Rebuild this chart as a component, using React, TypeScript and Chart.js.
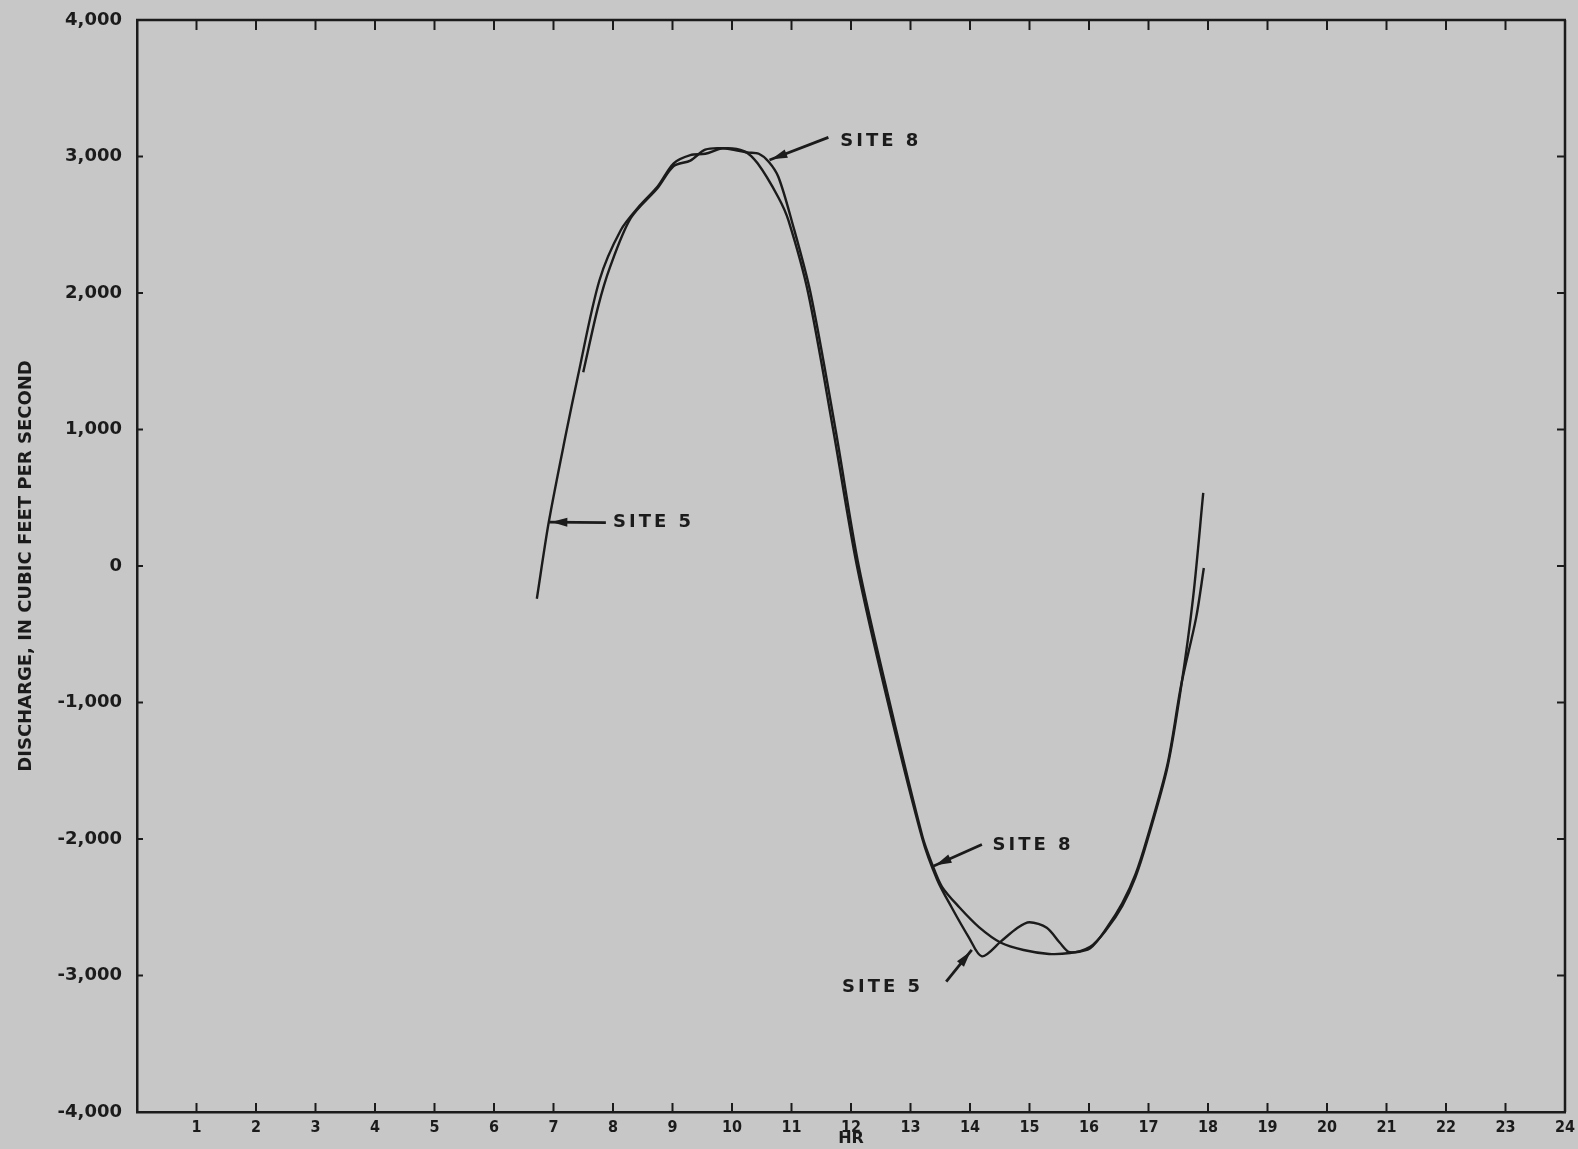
import React, { useEffect, useRef } from "react";
import { Chart, registerables } from "chart.js";

Chart.register(...registerables);

// ---- Data (hours, discharge in cubic feet per second) ----
const site5Hours = [
  6.72, 6.92, 7.21, 7.41, 7.77, 8.13, 8.45, 8.75, 9.02, 9.3, 9.55, 9.85, 10.2,
  10.43, 10.78, 10.95, 11.28, 11.7, 12.1, 12.62, 13.2, 13.45, 13.69, 13.98,
  14.2, 14.52, 14.8, 15.0, 15.29, 15.51, 15.68, 16.02, 16.3, 16.56, 16.78,
  16.98, 17.32, 17.55, 17.75, 17.92,
];
const site5Discharge = [
  -240, 320, 970, 1390, 2090, 2460, 2640, 2780, 2950, 3010, 3020, 3060, 3040,
  2950, 2700, 2530, 2000, 1000, 0, -1000, -2000, -2300, -2500, -2720, -2860,
  -2750, -2650, -2610, -2650, -2760, -2830, -2790, -2660, -2490, -2280, -2010,
  -1470, -880, -230, 535,
];
const site8Hours = [
  7.5, 7.75, 7.95, 8.3, 8.75, 9.02, 9.3, 9.55, 9.85, 10.26, 10.45, 10.62,
  10.78, 11.0, 11.32, 11.74, 12.13, 12.65, 13.2, 13.36, 13.53, 13.82, 14.15,
  14.52, 14.9, 15.33, 15.68, 16.02, 16.3, 16.56, 16.78, 16.98, 17.32, 17.55,
  17.8, 17.93,
];
const site8Discharge = [
  1420, 1900, 2190, 2550, 2770, 2930, 2970, 3050, 3060, 3030, 3020, 2960,
  2850, 2535, 2000, 1000, 0, -1000, -1980, -2180, -2350, -2500, -2645, -2760,
  -2813, -2842, -2835, -2800, -2650, -2470, -2260, -1990, -1450, -870, -380,
  -15,
];

const hourTicks = Array.from({ length: 25 }, (_, i) => i);
const dischargeTicks = [-4000, -3000, -2000, -1000, 0, 1000, 2000, 3000, 4000];

// Callout labels (in data coordinates)
const callouts = [
  { text: "SITE 8", at: [11.82, 3110], tail: [11.62, 3140], tip: [10.63, 2974] },
  { text: "SITE 5", at: [8.0, 318], tail: [7.88, 318], tip: [6.93, 322] },
  { text: "SITE 8", at: [14.38, -2045], tail: [14.2, -2040], tip: [13.39, -2198] },
  { text: "SITE 5", at: [11.85, -3085], tail: [13.6, -3045], tip: [14.03, -2813] },
];

const BG = "#c7c7c7";
const INK = "#1b1b1b";

const zip = (xs: number[], ys: number[]) => xs.map((x, i) => ({ x, y: ys[i] }));

export default function App() {
  const ref = useRef<HTMLCanvasElement>(null);

  useEffect(() => {
    document.body.style.margin = "0";
    document.body.style.background = BG;
    const canvas = ref.current!;

    const framePlugin = {
      id: "frame",
      beforeDraw(chart: any) {
        const { ctx, width, height } = chart;
        ctx.save();
        ctx.fillStyle = BG;
        ctx.fillRect(0, 0, width, height);
        ctx.restore();
      },
      afterDraw(chart: any) {
        const { ctx, chartArea, scales } = chart;
        const { left, right, top, bottom } = chartArea;
        const x = scales.x;
        const y = scales.y;
        const line = (x1: number, y1: number, x2: number, y2: number) => {
          ctx.beginPath();
          ctx.moveTo(x1, y1);
          ctx.lineTo(x2, y2);
          ctx.stroke();
        };
        ctx.save();
        ctx.strokeStyle = INK;
        ctx.lineCap = "butt";
        // top and right frame
        ctx.lineWidth = 2.5;
        line(left - 1, top, right + 1, top);
        line(right, top, right, bottom);
        // inward ticks
        ctx.lineWidth = 2;
        hourTicks
          .filter((v) => v > 0 && v < 24)
          .forEach((v) => {
            const px = x.getPixelForValue(v);
            line(px, bottom, px, bottom - 9);
            line(px, top, px, top + 10);
          });
        dischargeTicks
          .filter((v) => v > -4000 && v < 4000)
          .forEach((v) => {
            const py = y.getPixelForValue(v);
            line(left, py, left + 6, py);
            line(right, py, right - 8, py);
          });

        // callouts
        ctx.fillStyle = INK;
        ctx.font = "bold 18px 'DejaVu Sans'";
        (ctx as any).letterSpacing = "3px";
        ctx.textBaseline = "middle";
        ctx.textAlign = "left";
        callouts.forEach((c) => {
          const tx = x.getPixelForValue(c.at[0]);
          const ty = y.getPixelForValue(c.at[1]);
          ctx.fillText(c.text, tx, ty);
          const ax = x.getPixelForValue(c.tail[0]);
          const ay = y.getPixelForValue(c.tail[1]);
          const bx = x.getPixelForValue(c.tip[0]);
          const by = y.getPixelForValue(c.tip[1]);
          ctx.lineWidth = 2.8;
          line(ax, ay, bx, by);
          const ang = Math.atan2(by - ay, bx - ax);
          const len = 18;
          const hw = 4.5;
          const backX = bx - Math.cos(ang) * len;
          const backY = by - Math.sin(ang) * len;
          ctx.beginPath();
          ctx.moveTo(bx - Math.cos(ang) * 2, by - Math.sin(ang) * 2);
          ctx.lineTo(backX + Math.sin(ang) * hw, backY - Math.cos(ang) * hw);
          ctx.lineTo(backX - Math.sin(ang) * hw, backY + Math.cos(ang) * hw);
          ctx.closePath();
          ctx.fill();
        });
        ctx.restore();
      },
    };

    const chart = new Chart(canvas, {
      type: "line",
      data: {
        datasets: [
          {
            label: "Site 5",
            data: zip(site5Hours, site5Discharge),
            borderColor: INK,
            borderWidth: 2.4,
            pointRadius: 0,
            tension: 0.3,
            fill: false,
          },
          {
            label: "Site 8",
            data: zip(site8Hours, site8Discharge),
            borderColor: INK,
            borderWidth: 2.4,
            pointRadius: 0,
            tension: 0.3,
            fill: false,
          },
        ],
      },
      options: {
        animation: false,
        responsive: false,
        layout: { padding: { top: 20, right: 13, left: 0, bottom: 0 } },
        plugins: {
          legend: { display: false },
          tooltip: { enabled: false },
        },
        scales: {
          x: {
            type: "linear",
            min: 0,
            max: 24,
            afterBuildTicks: (s: any) => {
              s.ticks = hourTicks.map((v) => ({ value: v }));
            },
            afterFit: (s: any) => {
              s.height = 37;
              s.paddingLeft = 0;
              s.paddingRight = 0;
            },
            ticks: {
              autoSkip: false,
              maxRotation: 0,
              padding: 6,
              color: INK,
              font: { family: "'DejaVu Sans Condensed', 'DejaVu Sans'", weight: "bold", size: 16 },
              callback: (v: any) => (Number(v) === 0 ? "" : String(v)),
            },
            grid: { display: false, drawTicks: false },
            border: { display: true, color: INK, width: 2.5 },
            title: {
              display: true,
              text: "HR",
              color: INK,
              font: { family: "'DejaVu Sans'", weight: "bold", size: 16 },
              padding: 1,
            },
          },
          y: {
            type: "linear",
            min: -4000,
            max: 4000,
            afterBuildTicks: (s: any) => {
              s.ticks = dischargeTicks.map((v) => ({ value: v }));
            },
            afterFit: (s: any) => {
              s.width = 137;
              s.paddingTop = 0;
              s.paddingBottom = 0;
            },
            ticks: {
              padding: 15,
              color: INK,
              font: { family: "'DejaVu Sans'", weight: "bold", size: 18 },
              callback: (v: any) => Number(v).toLocaleString("en-US"),
            },
            grid: { display: false, drawTicks: false },
            border: { display: true, color: INK, width: 2.5 },
            title: {
              display: true,
              text: "DISCHARGE, IN CUBIC FEET PER SECOND",
              color: INK,
              font: { family: "'DejaVu Sans'", weight: "bold", size: 18 },
              padding: 16,
            },
          },
        },
      },
      plugins: [framePlugin],
    } as any);

    return () => chart.destroy();
  }, []);

  return (
    <div style={{ position: "absolute", left: 0, top: 0, width: 1578, height: 1149 }}>
      <canvas ref={ref} width={1578} height={1149} style={{ display: "block" }} />
    </div>
  );
}
